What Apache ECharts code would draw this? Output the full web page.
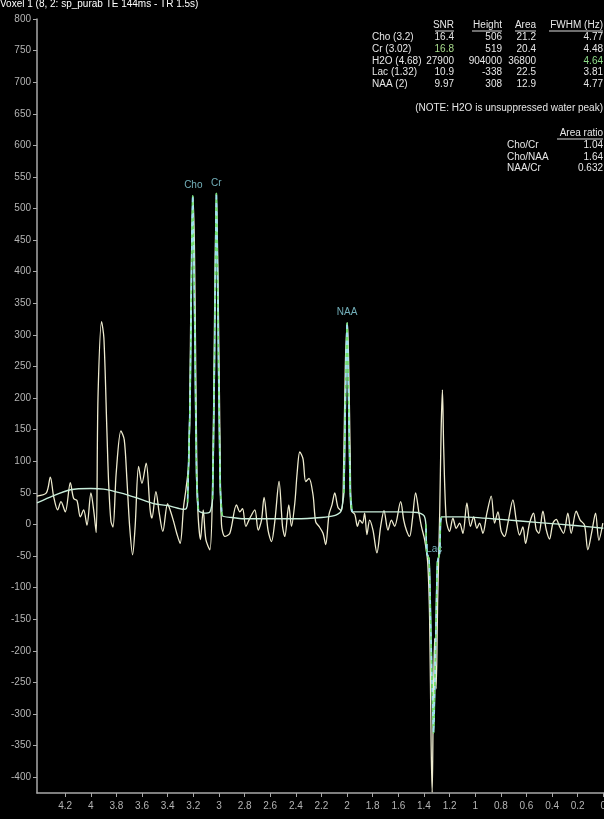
<!DOCTYPE html>
<html><head><meta charset="utf-8">
<script src="https://cdn.jsdelivr.net/npm/echarts@6/dist/echarts.min.js"></script>
<style>html,body{margin:0;padding:0;background:#000;}#c{width:604px;height:819px;}</style>
</head><body><div id="c"></div>
<script>
const titleText = 'Voxel 1 (8, 2: sp_purab TE 144ms - TR 1.5s)';
const yAxisName = 'Real';
const xTickValues = [0,0.2,0.4,0.6,0.8,1,1.2,1.4,1.6,1.8,2,2.2,2.4,2.6,2.8,3,3.2,3.4,3.6,3.8,4,4.2];
const yTickValues = [-400,-350,-300,-250,-200,-150,-100,-50,0,50,100,150,200,250,300,350,400,450,500,550,600,650,700,750,800];

// raw spectrum (ppm, real)
const rawPpm = [4.42,4.347,4.316,4.290,4.259,4.233,4.199,4.160,4.134,4.108,4.082,4.056,4.030,3.999,3.978,3.958,3.944,3.916,3.898,3.874,3.861,3.843,3.827,3.802,3.765,3.739,3.718,3.697,3.674,3.654,3.627,3.601,3.568,3.537,3.523,3.492,3.466,3.438,3.401,3.381,3.354,3.328,3.303,3.276,3.258,
  3.235,3.219,3.204,3.192,3.183,3.173,3.165,3.144,3.123,3.102,3.071,3.050,3.036,3.020,3.008,2.993,
  2.980,2.954,2.915,2.863,2.837,2.816,2.790,2.759,2.720,2.694,2.668,2.648,2.617,2.590,2.564,2.531,2.504,2.486,2.455,2.434,2.408,2.390,2.369,2.344,2.323,2.297,2.266,2.245,2.219,2.188,2.167,2.141,2.118,2.096,2.071,2.044,
  2.030,2.014,1.997,1.987,1.975,1.966,
  1.940,1.919,1.901,1.880,1.863,1.845,1.824,1.798,1.767,1.738,1.712,1.681,1.654,1.629,1.582,1.558,1.537,1.512,1.491,1.465,1.439,1.420,1.395,
  1.371,1.356,1.344,1.336,1.328,1.317,1.305,1.293,1.277,1.266,1.256,1.246,
  1.226,1.200,1.174,1.148,1.122,1.096,1.065,1.038,1.012,0.987,0.966,0.940,0.909,0.875,0.849,0.823,0.797,0.771,0.745,0.706,0.680,0.654,0.628,0.607,0.576,0.545,0.524,0.503,0.472,0.446,0.420,0.394,0.368,0.342,0.311,0.277,0.251,0.212,0.181,0.147,0.121,0.087,0.061,0.035,0.004];
const rawVal = [45,50,75,44,23,36,20,66,41,38,12,23,-1,50,23,-13,200,321,295,145,66,5,-4,81,148,134,70,-3,-48,-3,92,65,97,23,10,52,18,-11,33,23,5,-15,-30,28,55,
  100,350,518,450,287,100,23,-24,23,-24,-40,60,300,524,400,150,
  0,-19,-14,31,20,25,-3,10,23,-9,7,43,-9,-27,5,68,-3,-19,31,-3,34,81,115,104,68,73,47,4,-3,-14,-32,16,31,50,27,22,
  60,250,319,250,100,22,
  16,-3,7,2,18,-16,7,-9,-45,-3,22,-9,7,-3,36,7,-9,-19,7,50,18,-3,-24,
  -60,-150,-350,-424,-300,-180,-260,-120,20,150,213,120,
  7,-11,10,-6,2,-14,34,-3,12,-6,2,-14,18,45,2,20,-11,-19,2,39,7,-17,-4,-30,2,18,-8,-14,21,-8,-23,2,8,-3,-14,18,-14,21,7,-1,-40,-8,18,-25,2];

// fitted curve (baseline + peaks)
const fitPpm = [4.42,4.3,4.16,4.0,3.9,3.77,3.64,3.51,3.38,3.276,3.255,3.245,3.225,3.205,3.19,3.175,3.16,3.12,3.07,3.05,3.035,3.02,3.005,2.99,2.975,2.9,2.8,2.6,2.4,2.2,2.1,2.05,2.025,2.01,2.0,1.99,1.975,1.96,1.8,1.6,1.45,1.40,1.385,1.378,1.36,1.345,1.325,1.31,1.295,1.278,1.27,1.262,1.1,0.8,0.5,0.2,0];
const fitVal = [34,45,55,57,56,50,42,33,29,24,25,35,200,520,330,80,22,18,20,40,250,524,280,60,14,11,9,9,9,11,14,20,50,230,319,220,50,20,20,20,19,14,0,-45,-55,-180,-330,-200,-60,-45,5,12,12,8,3,-2,-6];

// fitted peak regions (ppm ranges)
const peakRanges = [[3.16,3.245],[2.975,3.05],[1.96,2.025],[1.262,1.385]];
const peakLabelNames = ['Cho','Cr','NAA','Lac'];
const peakLabelPpm = [3.2,3.02,2.0,1.32];
const peakLabelVal = [537,540,336,-40];

// table
const tableHeaders = ['SNR','Height','Area','FWHM (Hz)'];
const metNames = ['Cho (3.2)','Cr (3.02)','H2O (4.68)','Lac (1.32)','NAA (2)'];
const snr = ['16.4','16.8','27900','10.9','9.97'];
const height = ['506','519','904000','-338','308'];
const area = ['21.2','20.4','36800','22.5','12.9'];
const fwhm = ['4.77','4.48','4.64','3.81','4.77'];
const noteText = '(NOTE: H2O is unsuppressed water peak)';
const ratioHeader = 'Area ratio';
const ratioNames = ['Cho/Cr','Cho/NAA','NAA/Cr'];
const ratioValues = ['1.04','1.64','0.632'];

const FONT = '"Liberation Sans", Arial, sans-serif';
const chart = echarts.init(document.getElementById('c'));

const rawData = rawPpm.map((p,i)=>[p, rawVal[i]]);
const fitData = fitPpm.map((p,i)=>[p, fitVal[i]]);

const series = [
  {type:'line', data: rawData, smooth:0.3, symbol:'none', lineStyle:{color:'#eeebcf', width:1.3}, z:2, animation:false},
  {type:'line', data: fitData, smooth:0.2, symbol:'none', lineStyle:{color:'#c9eedb', width:1.4}, z:3, animation:false}
];
peakRanges.forEach(r=>{
  const seg = fitData.filter(d=>d[0]>=r[0]-1e-9 && d[0]<=r[1]+1e-9);
  series.push({type:'line', data: seg, smooth:0.2, symbol:'none', lineStyle:{color:'#6fe06f', width:1.6, type:[4,4]}, z:4, animation:false});
  series.push({type:'line', data: seg, smooth:0.2, symbol:'none', lineStyle:{color:'#9be2ef', width:1.6, type:[4,4], dashOffset:4}, z:4, animation:false});
});
series.push({type:'scatter', symbolSize:0, z:5, animation:false,
  data: peakLabelNames.map((n,i)=>({value:[peakLabelPpm[i], peakLabelVal[i]], name:n})),
  label:{show:true, position:'inside', formatter:p=>p.name, color:'#8fd9e6', fontFamily:FONT, fontSize:10}
});

const g = [];
const txt = (x,y,t,align,fill)=>g.push({type:'text', x:x, y:y, z:10, style:{text:t, fill:fill||'#e6e6e6', font:'10px '+FONT, align:align||'left', verticalAlign:'middle'}});
const uline = (x1,x2,y)=>g.push({type:'line', z:10, shape:{x1:x1,y1:y,x2:x2,y2:y}, style:{stroke:'#dcdcdc', lineWidth:1}});

txt(0, 4, titleText, 'left', '#ffffff');

const colRight = [454, 502, 536, 603];
const colWidths = [19, 30, 21, 54];
const headY = 25, rowY0 = 37.5, rowDy = 11.7;
tableHeaders.forEach((h,i)=>{ txt(colRight[i], headY, h, 'right'); uline(colRight[i]-colWidths[i], colRight[i], headY+6); });
const cols = [snr, height, area, fwhm];
metNames.forEach((n,r)=>{
  const y = rowY0 + r*rowDy;
  txt(372, y, n, 'left');
  cols.forEach((c,ci)=>{
    let fill = '#e6e6e6';
    if (ci===0 && r===1) fill = '#a9dc8c';
    if (ci===3 && r===2) fill = '#8fdc8a';
    txt(colRight[ci], y, c[r], 'right', fill);
  });
});
txt(603, 108, noteText, 'right');
txt(603, 133, ratioHeader, 'right'); uline(557, 603, 139);
ratioNames.forEach((n,i)=>{ const y = 145 + i*11.8; txt(507, y, n, 'left'); txt(603, y, ratioValues[i], 'right'); });

chart.setOption({
  backgroundColor:'#000000',
  animation:false,
  grid:{left:37, right:0, top:19, bottom:26, containLabel:false, outerBoundsMode:'none'},
  xAxis:{type:'value', inverse:true, min:-0.005, max:4.42,
    axisLine:{show:true, onZero:false, lineStyle:{color:'#a8a8a8', width:1.5}},
    axisTick:{show:true, customValues:xTickValues, length:4, lineStyle:{color:'#a8a8a8'}},
    axisLabel:{customValues:xTickValues, color:'#b4b4b4', fontFamily:FONT, fontSize:10, margin:8, formatter:v=>String(v)},
    splitLine:{show:false}},
  yAxis:{type:'value', min:-425, max:800, name:yAxisName, nameLocation:'middle', nameGap:24,
    nameTextStyle:{color:'#a8a8a8', fontFamily:FONT, fontSize:10},
    axisLine:{show:true, onZero:false, lineStyle:{color:'#a8a8a8', width:1.5}},
    axisTick:{show:true, customValues:yTickValues, length:4, lineStyle:{color:'#a8a8a8'}},
    axisLabel:{customValues:yTickValues, color:'#b4b4b4', fontFamily:FONT, fontSize:10, margin:6},
    splitLine:{show:false}},
  series: series,
  graphic: g
});
</script></body></html>
